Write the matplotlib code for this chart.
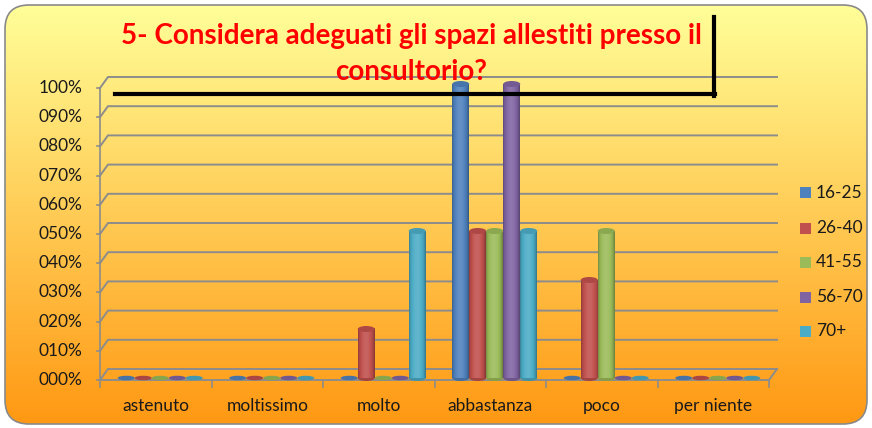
import numpy as np
import matplotlib
matplotlib.use("Agg")
import matplotlib.pyplot as plt
from matplotlib.patches import FancyBboxPatch, Ellipse, Rectangle
from matplotlib.lines import Line2D
from matplotlib.colors import to_rgb

categories = ["astenuto", "moltissimo", "molto", "abbastanza", "poco", "per niente"]
series_names = ["16-25", "26-40", "41-55", "56-70", "70+"]
values = {
    "16-25": [0.0, 0.0, 0.0, 1.0, 0.0, 0.0],
    "26-40": [0.0, 0.0, 0.1667, 0.5, 0.3333, 0.0],
    "41-55": [0.0, 0.0, 0.0, 0.5, 0.5, 0.0],
    "56-70": [0.0, 0.0, 0.0, 1.0, 0.0, 0.0],
    "70+":   [0.0, 0.0, 0.5, 0.5, 0.0, 0.0],
}
colors = ["#4F81BD", "#C0504D", "#9BBB59", "#8064A2", "#4BACC6"]
yticks = [0.0, 0.1, 0.2, 0.3, 0.4, 0.5, 0.6, 0.7, 0.8, 0.9, 1.0]
title = "5- Considera adeguati gli spazi allestiti presso il\nconsultorio?"

W, H = 872, 428
fig = plt.figure(figsize=(W / 100, H / 100), dpi=100)
fig.patch.set_facecolor("white")

def fx(px):
    return px / W

def fy(py):
    return 1 - py / H

FONT = "Lato"
FS = 12.5

# background with rounded rect gradient
bg = fig.add_axes([0, 0, 1, 1], zorder=-10)
bg.set_xlim(0, W)
bg.set_ylim(H, 0)
bg.axis("off")
top = np.array([255, 255, 153]) / 255
bot = np.array([255, 152, 18]) / 255
t = np.linspace(0, 1, 256)[:, None]
grad = top[None, None, :] * (1 - t[..., None]) + bot[None, None, :] * t[..., None]
grad = np.repeat(grad, 2, axis=1)
im = bg.imshow(grad, extent=[4, 870, 426, 4], aspect="auto", interpolation="bilinear")
box = FancyBboxPatch((5, 5), 862, 419, boxstyle="round,pad=0,rounding_size=24",
                     facecolor="none", edgecolor="#8A8A8A", linewidth=1.2)
bg.add_patch(box)
im.set_clip_path(box)

# main axes (front plane)
x0p, x1p = 100, 769
y0p, y1p = 380, 88
n = len(categories)
ax = fig.add_axes([fx(x0p), fy(y0p), fx(x1p - x0p), (y0p - y1p) / H])
ax.set_xlim(0, n)
ax.set_ylim(0, 1)
ax.patch.set_alpha(0)
for s in ax.spines.values():
    s.set_visible(False)
ax.set_xticks([])
ax.set_yticks([])

ppx = n / (x1p - x0p)
ppy = 1.0 / (y0p - y1p)
DX = 8 * ppx
DY = 11 * ppy
gc = "#8C8C8C"

# back wall gridlines + side diagonals
for v in yticks:
    ax.plot([0, DX, n + DX], [v, v + DY, v + DY], color=gc, lw=1.4, zorder=1,
            clip_on=False, solid_joinstyle="miter")
    ax.plot([-0.03, 0], [v, v], color=gc, lw=1.2, clip_on=False)
    ax.text(-0.155, v, f"{int(round(v * 100)):03d}%", ha="right", va="center",
            fontsize=FS, family=FONT, color="#1a1a1a")
ax.plot([0, 0], [0, 1], color=gc, lw=1.2, clip_on=False)
ax.plot([0, n], [0, 0], color=gc, lw=1.4, clip_on=False, zorder=1)
ax.plot([n, n + DX], [0, DY], color=gc, lw=1.4, clip_on=False, zorder=1)
for i in range(n + 1):
    ax.plot([i, i], [0, -0.025], color=gc, lw=1.2, clip_on=False)
for i, c in enumerate(categories):
    ax.text(i + 0.5, -0.09, c, ha="center", va="center", fontsize=FS,
            family=FONT, color="#1a1a1a", clip_on=False)

# bar axes (mid-depth plane of the 3D chart)
bx0, bx1 = x0p + 4.5, x1p + 4.5
by0, by1 = 378, 84
bax = fig.add_axes([fx(bx0), fy(by0), fx(bx1 - bx0), (by0 - by1) / H], zorder=2)
bax.set_xlim(0, n)
bax.set_ylim(0, 1)
bax.axis("off")
bppy = 1.0 / (by0 - by1)
bw = 17 * ppx
eh = 6 * bppy
prof = np.linspace(0, 1, 40)
shade = 0.72 + 0.36 * np.sin(np.pi * np.clip(prof * 1.05, 0, 1)) ** 0.5

def shaded(col, f):
    c = np.array(to_rgb(col))
    if f <= 1:
        return c * f
    return c + (1 - c) * (f - 1) * 1.5

for k, name in enumerate(series_names):
    col = colors[k]
    for i, v in enumerate(values[name]):
        xc = i + 0.5 + (k - 2) * bw
        if v > 0:
            img = np.array([shaded(col, f) for f in shade])[None, :, :]
            bax.imshow(img, extent=[xc - bw / 2, xc + bw / 2, 0, v],
                       aspect="auto", zorder=3, interpolation="bilinear")
            bax.add_patch(Ellipse((xc, 0), bw, eh, facecolor=shaded(col, 0.85),
                                  edgecolor="none", zorder=2.9, clip_on=False))
            bax.add_patch(Ellipse((xc, v), bw, eh, facecolor=shaded(col, 0.9),
                                  edgecolor="none", zorder=3.1, clip_on=False))
        else:
            bax.add_patch(Ellipse((xc, 0), bw, 4.5 * bppy, facecolor=shaded(col, 0.88),
                                  edgecolor="none", zorder=2.9, clip_on=False))
bax.set_xlim(0, n)
bax.set_ylim(0, 1)

# legend
ly = [193, 228, 262, 297, 331]
for k, name in enumerate(series_names):
    fig.patches.append(Rectangle((fx(800), fy(ly[k] + 5.5)), fx(11), 11 / H,
                                 transform=fig.transFigure, facecolor=colors[k],
                                 edgecolor="none"))
    fig.text(fx(816), fy(ly[k]), name, ha="left", va="center", fontsize=FS,
             family=FONT, color="#1a1a1a")

# title
l1, l2 = title.split("\n")
fig.text(fx(411), fy(36), l1, ha="center", va="center",
         fontsize=20, fontweight="bold", color="#FF0000", family=FONT, zorder=5)
fig.text(fx(411), fy(72), l2, ha="center", va="center",
         fontsize=20, fontweight="bold", color="#FF0000", family=FONT, zorder=5)

# black frame lines
fig.lines.append(Line2D([fx(115), fx(715)], [fy(94), fy(94)], transform=fig.transFigure,
                        color="black", lw=3, zorder=20))
fig.lines.append(Line2D([fx(714), fx(714)], [fy(95.5), fy(17)], transform=fig.transFigure,
                        color="black", lw=3, zorder=20))

fig.savefig("out.png", dpi=100)
